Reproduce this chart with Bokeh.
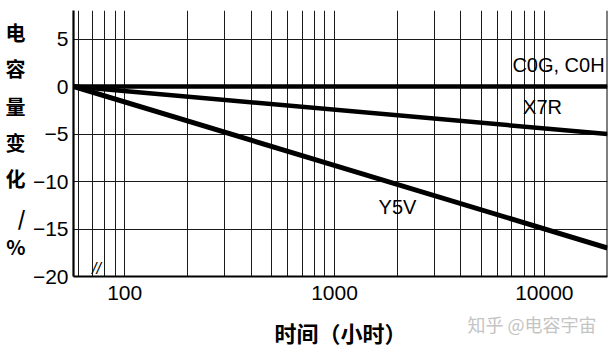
from bokeh.plotting import figure
from bokeh.models import FixedTicker, Label, Span, LinearAxis, LogAxis
from bokeh.embed import file_html
from bokeh.resources import INLINE

# ---- data ----
hours = [57, 20000]
c0g = [0.0, 0.0]
x7r = [0.0, -5.0]
y5v = [0.0, -17.0]

x_ticks = [100, 1000, 10000]
x_tick_labels = ["100", "1000", "10000"]
x_grid = [60, 70, 80, 90, 100, 200, 300, 400, 500, 600, 700, 800, 900,
          1000, 2000, 3000, 4000, 5000, 6000, 7000, 8000, 9000, 10000]
y_ticks = [-20, -15, -10, -5, 0, 5]
y_tick_labels = ["\u221220", "\u221215", "\u221210", "\u22125", "0", "5"]
y_title_chars = ["电", "容", "量", "变", "化", "/", "%"]
x_title = "时间（小时）"
series_names = ["C0G, C0H", "X7R", "Y5V"]
watermark = "知乎 @电容宇宙"

# positions (axis units) used for the stacked y-title and the watermark
y_title_pos = [5.68, 1.89, -2.11, -5.89, -9.68, -13.79, -16.84]
watermark_pos = [8740]

NUM_FONT = "Liberation Sans"
CJK_FONT = "Noto Sans CJK SC"

p = figure(width=615, height=350, x_axis_type="log",
           x_range=(57, 20000), y_range=(-20, 8),
           output_backend="svg", toolbar_location=None,
           min_border_left=73, min_border_right=8,
           min_border_top=10, min_border_bottom=74)
p.outline_line_color = None
p.background_fill_color = "white"
p.border_fill_color = "white"

xa = p.xaxis[0]
ya = p.yaxis[0]

# main axes
xa.ticker = FixedTicker(ticks=x_ticks)
xa.major_label_overrides = {t: l for t, l in zip(x_ticks, x_tick_labels)}
ya.ticker = FixedTicker(ticks=y_ticks)
ya.major_label_overrides = {t: l for t, l in zip(y_ticks, y_tick_labels)}
for ax in (xa, ya):
    ax.axis_line_width = 2.2
    ax.axis_line_color = "black"
    ax.major_tick_in = 0
    ax.major_tick_out = 0
    ax.minor_tick_in = 0
    ax.minor_tick_out = 0
    ax.major_label_text_font = NUM_FONT
    ax.major_label_text_font_size = "21px"
    ax.major_label_text_color = "black"
xa.major_label_standoff = 9
ya.major_label_standoff = 5


def bare(ax):
    ax.axis_line_color = None
    ax.major_tick_in = 0
    ax.major_tick_out = 0
    ax.minor_tick_in = 0
    ax.minor_tick_out = 0


# second bottom axis: watermark as its label, x title as its axis label
xb = LogAxis(ticker=FixedTicker(ticks=watermark_pos),
             major_label_overrides={t: watermark for t in watermark_pos})
bare(xb)
xb.major_label_standoff = 8
xb.major_label_text_font = CJK_FONT
xb.major_label_text_font_size = "18px"
xb.major_label_text_color = "#c4c4c4"
xb.axis_label = x_title
xb.axis_label_text_font = CJK_FONT
xb.axis_label_text_font_style = "bold"
xb.axis_label_text_font_size = "22px"
xb.axis_label_text_color = "black"
xb.axis_label_standoff = -24
p.add_layout(xb, "below")

# stacked, upright y title drawn as the labels of an outer left axis
yt = LinearAxis(ticker=FixedTicker(ticks=y_title_pos),
                major_label_overrides={t: c for t, c in zip(y_title_pos, y_title_chars)})
bare(yt)
yt.major_label_standoff = 4
yt.major_label_text_font = CJK_FONT
yt.major_label_text_font_style = "bold"
yt.major_label_text_font_size = "20px"
yt.major_label_text_color = "black"
p.add_layout(yt, "left")

# grids
p.xgrid.ticker = FixedTicker(ticks=x_grid)
p.xgrid.grid_line_color = "#1a1a1a"
p.xgrid.grid_line_width = 1
p.ygrid.grid_line_color = "#1a1a1a"
p.ygrid.grid_line_width = 1

# right edge
p.add_layout(Span(location=20000, dimension="height", line_color="black", line_width=2))

# series
p.line(hours, c0g, line_color="black", line_width=4.5)
p.line(hours, x7r, line_color="black", line_width=4.5)
p.line(hours, y5v, line_color="black", line_width=5)

# series labels (canvas px)
label_pos = [(558, 64), (542, 106), (397, 206)]
for name, (cx, cy) in zip(series_names, label_pos):
    p.add_layout(Label(x=cx, y=cy, x_units="canvas", y_units="canvas", text=name,
                       text_font=NUM_FONT, text_font_size="20px", text_color="black",
                       text_align="center", text_baseline="middle"))

# axis break mark (visible part above the axis line)
p.add_layout(Label(x=96, y=276, x_units="canvas", y_units="canvas", text="//",
                   text_font=NUM_FONT, text_font_style="italic", text_font_size="16px",
                   text_color="black", text_align="center", text_baseline="bottom"))

open("out.html", "w").write(file_html(p, INLINE))
